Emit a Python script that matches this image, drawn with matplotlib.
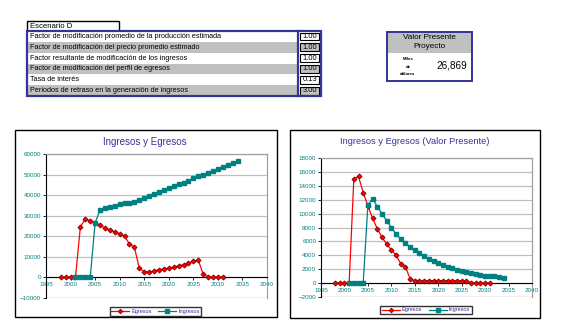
import matplotlib

matplotlib.use("Agg")
import matplotlib.pyplot as plt  # noqa: E402
from matplotlib.patches import Rectangle  # noqa: E402

plt.rcParams["font.family"] = ["Liberation Sans", "DejaVu Sans"]

# scenario table
row_labels = [
    "Factor de modificación promedio de la producción estimada",
    "Factor de modificación del precio promedio estimado",
    "Factor resultante de modificación de los ingresos",
    "Factor de modificación del perfil de egresos",
    "Tasa de interés",
    "Periodos de retraso en la generación de ingresos",
]
row_values = ["1.00", "1.00", "1.00", "1.00", "0.13", "3.00"]
pv_total = "26,869"

# nominal series
egr_years = list(range(1998, 2032))
egresos = [0, 0, 0, 0, 24600, 28500, 27500, 26700, 25400, 24000, 23000, 22000,
           21200, 20100, 16200, 14600, 4500, 2800, 2600, 3200, 3700, 4200, 4500,
           4900, 5700, 6200, 6800, 7800, 8400, 1600, 300, 0, 0, 0]
ing_years = list(range(2001, 2035))
ingresos = [0, 0, 0, 0, 26500, 32700, 33700, 34400, 34800, 35500, 36000, 36300,
            36800, 37600, 38600, 39500, 40700, 41500, 42600, 43600, 44400, 45400,
            46000, 47000, 48100, 49100, 49900, 50700, 51700, 52500, 53600, 54600,
            55600, 56700]

# present value series
egresos_vp = [0, 0, 0, 0, 14950, 15340, 13030, 11100, 9330, 7840, 6590, 5630,
              4760, 4040, 2790, 2360, 625, 370, 300, 330, 340, 350, 330, 320,
              330, 320, 310, 320, 300, 50, 10, 0, 0, 0]
ingresos_vp = [0, 0, 0, 0, 11260, 12130, 11020, 9960, 9000, 7990, 7070, 6350,
               5730, 5250, 4810, 4330, 3900, 3460, 3130, 2890, 2600, 2360, 2120,
               1920, 1780, 1640, 1440, 1350, 1200, 1060, 1010, 960, 820, 670]

W, H = 574, 335
BLUE = "#333399"
TEAL = "#008080"
GRAY = "#c0c0c0"

fig = plt.figure(figsize=(W / 100, H / 100), dpi=100)

# background layer in pixel coordinates
bg = fig.add_axes([0, 0, 1, 1], zorder=0)
bg.set_xlim(0, W)
bg.set_ylim(H, 0)
bg.axis("off")

# "Escenario D" header
bg.add_patch(Rectangle((27, 21), 92, 10, fc="white", ec="black", lw=1))
bg.text(30, 26.3, "Escenario D", fontsize=5.6, va="center", ha="left")

# parameter table
top, rh = 31, 65 / 6
for i, (lab, val) in enumerate(zip(row_labels, row_values)):
    y0 = top + i * rh
    fc = "white" if i % 2 == 0 else GRAY
    bg.add_patch(Rectangle((27, y0), 271, rh, fc=fc, ec="none"))
    bg.add_patch(Rectangle((299.5, y0 + 1.5), 19.5, rh - 3, fc=fc, ec="black", lw=0.8))
    bg.text(30, y0 + rh / 2, lab, fontsize=5.2, va="center", ha="left")
    bg.text(317.5, y0 + rh / 2, val, fontsize=5.4, va="center", ha="right")
bg.add_patch(Rectangle((27, top), 294, 65, fc="none", ec=BLUE, lw=1.6))
bg.plot([298, 298], [top, top + 65], color=BLUE, lw=1.6)

# present value box
bg.add_patch(Rectangle((387, 32), 85, 21, fc=GRAY, ec="none"))
bg.add_patch(Rectangle((387, 32), 85, 49, fc="none", ec=BLUE, lw=1.4))
bg.text(429.5, 37.5, "Valor Presente", fontsize=5.9, ha="center", va="center")
bg.text(429.5, 47, "Proyecto", fontsize=5.9, ha="center", va="center")
for yy, t in zip([59, 66.5, 74], ["Miles", "de", "dólares"]):
    bg.text(408, yy, t, fontsize=3.2, ha="center", va="center", fontweight="bold")
bg.text(467, 66, pv_total, fontsize=7.2, ha="right", va="center")

# chart boxes
bg.add_patch(Rectangle((15, 130), 262, 187, fc="white", ec="black", lw=1))
bg.add_patch(Rectangle((290, 130), 250, 188, fc="white", ec="black", lw=1))


def chart(rect, title, e_vals, i_vals, ylo, yhi, ystep, title_xy, leg_xy, tsize):
    ax = fig.add_axes(rect, zorder=2)
    ax.set_facecolor("none")
    ax.plot(egr_years, e_vals, color="red", lw=0.9, marker="D", ms=2.6,
            mfc="red", mec="#800000", mew=0.6, zorder=3, label="Egresos")
    ax.plot(ing_years, i_vals, color=TEAL, lw=0.9, marker="s", ms=3.4,
            mfc=TEAL, mec=TEAL, zorder=3, label="Ingresos")
    ax.set_xlim(1995, 2040)
    ax.set_ylim(ylo, yhi)
    ax.set_xticks(range(1995, 2041, 5))
    ax.set_yticks(range(ylo, yhi + 1, ystep))
    ax.yaxis.grid(True, color=GRAY, lw=0.9)
    ax.set_axisbelow(True)
    ax.spines["bottom"].set_position(("data", 0))
    ax.spines["bottom"].set_linewidth(0.8)
    ax.spines["left"].set_linewidth(0.8)
    for s in ("top", "right"):
        ax.spines[s].set_color("#a0a0a0")
        ax.spines[s].set_linewidth(0.9)
    ax.tick_params(labelsize=4.5, colors="black", labelcolor=TEAL, length=2, width=0.6, pad=1.5)
    ax.axhline(ylo, color=GRAY, lw=0.9, zorder=1)
    bg.text(title_xy[0], title_xy[1], title, fontsize=tsize, color=BLUE, ha="center", va="center")
    leg = ax.legend(loc="center", bbox_to_anchor=(leg_xy[0] / W, 1 - leg_xy[1] / H),
                    bbox_transform=fig.transFigure, ncol=2, fontsize=4, frameon=True,
                    fancybox=False, edgecolor="black", handlelength=3.2, columnspacing=1.2,
                    handletextpad=0.4, borderpad=0.3, markerscale=0.9)
    leg.get_frame().set_linewidth(1)
    for t in leg.get_texts():
        t.set_color(BLUE)
    return ax


chart([46 / W, 1 - 298 / H, 221 / W, 144 / H], "Ingresos y Egresos",
      egresos, ingresos, -10000, 60000, 10000, (145, 142), (155.5, 311.5), 7)
chart([321 / W, 1 - 297 / H, 211 / W, 139 / H], "Ingresos y Egresos (Valor Presente)",
      egresos_vp, ingresos_vp, -2000, 18000, 2000, (415, 142), (426, 310), 6.7)

fig.savefig("out.png", dpi=100)
